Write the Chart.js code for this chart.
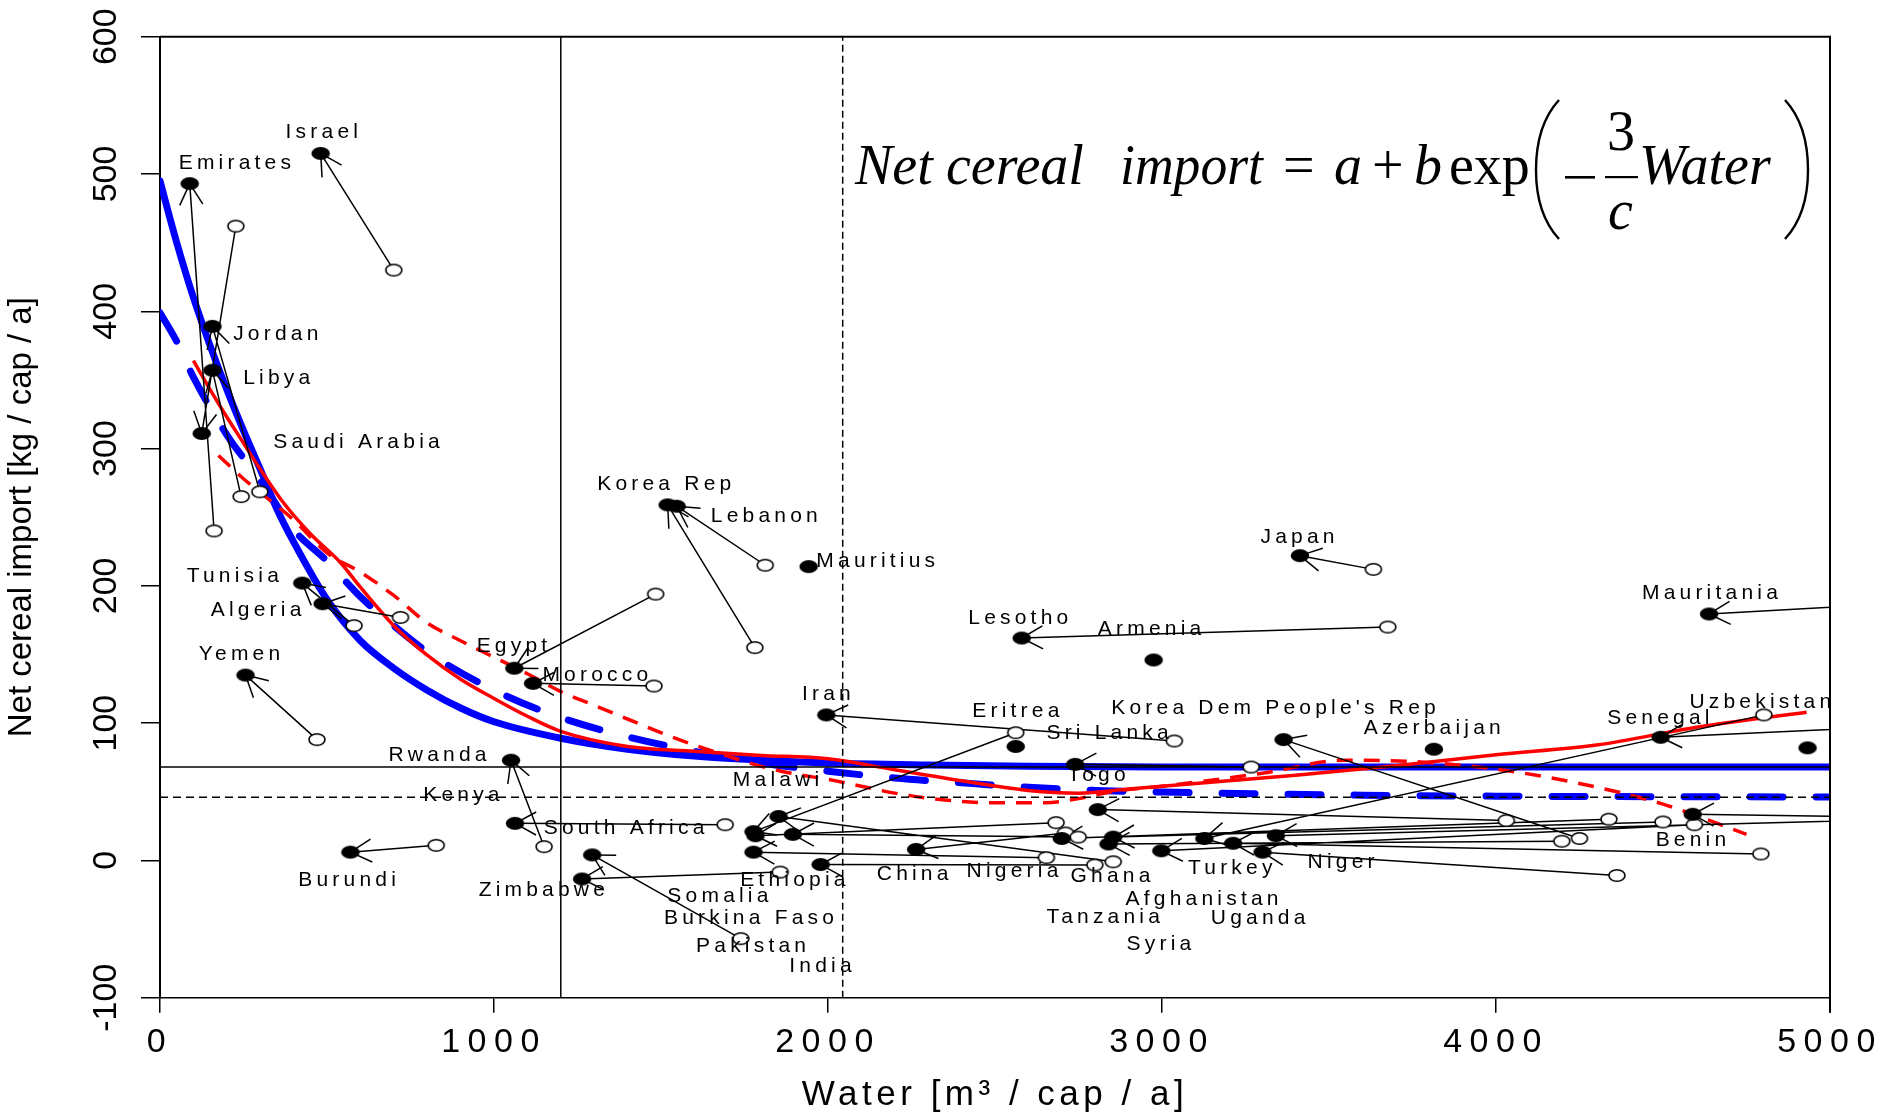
<!DOCTYPE html>
<html>
<head>
<meta charset="utf-8">
<script src="https://cdn.jsdelivr.net/npm/chart.js@4"></script>
<style>
html,body{margin:0;padding:0;background:#fff;}
#wrap{width:1888px;height:1116px;}
</style>
</head>
<body>
<div id="wrap"><canvas id="c" width="1888" height="1116"></canvas></div>
<script>
// ---------------- DATA ----------------
const xTickValues = [0, 1000, 2000, 3000, 4000, 5000];
const yTickValues = [-100, 0, 100, 200, 300, 400, 500, 600];

// arrow pairs: open circle (from) -> filled dot (to)
const pairCountry = ['Israel','Emirates','Saudi Arabia','Jordan','Libya','Tunisia','Algeria','Yemen','Egypt','Morocco',
  'Rwanda','South Africa','Burundi','Somalia','Zimbabwe','Korea Rep','Lebanon','Iran','Malawi','Togo',
  'Lesotho','Japan','Mauritania','Senegal','Benin','Turkey',"Korea Dem People's Rep",'Niger','Uganda','Pakistan',
  'Afghanistan','Tanzania','Ghana','Syria','Nigeria','Ethiopia','Burkina Faso','China','India','Kenya','Sri Lanka'];
const waterTo   = [481, 89, 125, 157, 157, 426, 487, 256, 1061, 1117, 1051, 1063, 570, 1294, 1264, 1520, 1547, 1995, 1777, 2740,
  2580, 3413, 4638, 4493, 4589, 3127, 3364, 3301, 3213, 3341, 2808, 2700, 2854, 2840, 2998, 1978, 1777, 2264, 1852, 1783, 1895];
const importTo  = [515, 493, 311, 389, 357, 202, 187, 135, 140, 129, 73, 27, 6, 4, -13.5, 259, 258, 106, 21, 70,
  162, 222, 179.5, 89.7, 33.6, 16, 88, 6, 12.5, 18, 37, 16, 17, 12, 7, -3, 6, 8, 32, 18, 19];
const waterFrom = [700, 162, 227, 299, 243, 581, 720, 470, 1484, 1479, 1150, 1692, 827, 1739, 1857, 1781, 1812, 3037, 2562, 3267,
  3676, 3633, 5500, 5500, 5500, 4802, 4250, 4362, 4793, 5500, 4031, 4338, 4500, 4197, 4594, 2799, 2654, 2711, 2854, 2683, 2749];
const importFrom= [430, 240, 462, 268.5, 265, 171, 177, 88, 194, 127, 10, 26, 11, -57, -8.5, 155, 215, 87, 93, 68,
  170, 212, 191, 101, 30.5, 106, 16, -11, 4.7, 31.7, 29, 30, 28, 14, 26, -3.3, 2, 20, -1, 27.5, 17];

// filled dots without an arrow
const singleCountry = ['Mauritius','Armenia','Eritrea','Azerbaijan','Uzbekistan'];
const singleWater   = [1942, 2975, 2562, 3814, 4933];
const singleImport  = [214, 146, 83, 81, 82];

// fitted / smoothed curves
const blueSolidWater  = [0, 25, 50, 100, 150, 200, 250, 300, 350, 400, 500, 600, 700, 800, 900, 1000, 1200, 1400, 1600, 1800, 2000, 2300, 2600, 3000, 4000, 5000];
const blueSolidImport = [495, 472, 450, 410, 375, 343, 313, 285, 256, 232, 190, 160, 140, 124, 111, 101, 89, 81, 76, 73, 71, 69.5, 68.5, 68, 68, 68];
const blueDashWater   = [0, 50, 100, 200, 300, 400, 500, 600, 700, 800, 1000, 1200, 1400, 1600, 1800, 2000, 2200, 2400, 2600, 2800, 3000, 3300, 3600, 4000, 5000];
const blueDashImport  = [399, 378, 352, 310, 277, 241, 218, 192, 171, 152, 124, 104, 90, 79.5, 71, 65, 60, 56.5, 53.3, 51, 49.8, 48.5, 47.5, 46.8, 46.2];
const redSolidWater   = [100, 150, 200, 250, 300, 365, 450, 540, 600, 700, 800, 900, 1000, 1100, 1200, 1400, 1600, 1800, 2000, 2200, 2400, 2600, 2750, 2900, 3100, 3400, 3700, 4000, 4300, 4600, 4930];
const redSolidImport  = [364, 343, 323, 304, 285, 262, 238, 217, 199, 171, 149.5, 132, 118, 105, 94, 83, 79.5, 76.5, 74, 66, 58, 51, 49, 52, 56, 62, 69, 77, 84, 97, 108];
const redDashWater    = [175, 250, 300, 400, 500, 600, 700, 800, 900, 1000, 1100, 1200, 1300, 1400, 1500, 1600, 1700, 1800, 1900, 2000, 2100, 2200, 2350, 2500, 2650, 2750, 2850, 3000, 3300, 3550, 3750, 4000, 4250, 4500, 4750];
const redDashImport   = [295, 278, 268, 248, 224, 210, 193, 173, 160, 148, 136, 123, 113, 103, 93, 84, 76, 68.5, 63, 59, 54, 49, 44, 42, 42, 45, 50, 54, 63.5, 73, 72, 66.5, 56, 41, 19];

// reference lines
const refSolidWater = 1200, refDashWater = 2044;
const refSolidImport = 68, refDashImport = 46;

// country name annotations (anchor in data units: left edge, vertical middle)
const labelText  = ['Israel','Emirates','Jordan','Libya','Saudi Arabia','Korea Rep','Lebanon','Mauritius','Tunisia','Algeria',
  'Yemen','Egypt','Morocco','Rwanda','Kenya','South Africa','Burundi','Zimbabwe','Somalia','Burkina Faso',
  'Pakistan','India','Ethiopia','Malawi','China','Nigeria','Ghana','Turkey','Afghanistan','Tanzania',
  'Uganda','Syria','Eritrea','Sri Lanka',"Korea Dem People's Rep",'Togo','Iran','Lesotho','Armenia','Japan',
  'Mauritania','Azerbaijan','Senegal','Uzbekistan','Benin','Niger'];
const labelWater = [376, 56, 219, 249, 339, 1309, 1649, 1965, 80, 152,
  116, 948, 1145, 684, 788, 1149, 414, 954, 1519, 1509,
  1605, 1884, 1737, 1715, 2146, 2415, 2726, 3078, 2891, 2654,
  3146, 2894, 2432, 2654, 2848, 2717, 1922, 2420, 2808, 3295,
  4437, 3604, 4333, 4579, 4478, 3436];
const labelImport = [530.6, 507.6, 383.5, 351, 304.7, 274.2, 250.9, 218.2, 206.7, 182.4,
  150.4, 155.8, 134.6, 77, 47.3, 23.6, -14.2, -21.4, -25.9, -42.1,
  -62.8, -77.4, -14.2, 58.1, -9.9, -8.2, -11.8, -5.7, -28.1, -41.4,
  -42.1, -61.1, 108.4, 92.6, 110.8, 62.2, 120.9, 176.1, 168.7, 235.4,
  194.7, 96, 103.8, 115.1, 14.9, -1.4];

// ---------------- BUILD ----------------
const zip = (xs, ys) => xs.map((v, i) => ({x: v, y: ys[i]}));

function ellipseImg(w, h, fill, stroke, lw) {
  const c = document.createElement('canvas');
  c.width = w + 4; c.height = h + 4;
  const g = c.getContext('2d');
  g.beginPath();
  g.ellipse(c.width / 2, c.height / 2, w / 2, h / 2, 0, 0, Math.PI * 2);
  if (fill) { g.fillStyle = fill; g.fill(); }
  if (stroke) { g.lineWidth = lw; g.strokeStyle = stroke; g.stroke(); }
  return c;
}
const filledImg = ellipseImg(18.5, 13, '#000', null, 0);
const openImg = ellipseImg(16, 11.5, '#fff', '#000', 1.6);

const arrowData = [];
pairCountry.forEach((n, i) => {
  arrowData.push({x: waterFrom[i], y: importFrom[i]});
  arrowData.push({x: waterTo[i], y: importTo[i]});
  arrowData.push({x: waterTo[i], y: null});
});
const openData = zip(waterFrom, importFrom).filter(p => p.x <= 5000);
const filledData = zip(waterTo, importTo).concat(zip(singleWater, singleImport));

const SANS = '"Liberation Sans", Arial, Helvetica, sans-serif';
const SERIF = '"Liberation Serif", "Times New Roman", serif';

const lineDs = (label, data, color, width, dash, order, extra) => Object.assign({
  label, data, showLine: true, borderColor: color, backgroundColor: color, borderWidth: width,
  borderDash: dash || [], pointRadius: 0, pointHoverRadius: 0, fill: false, order, tension: 0
}, extra || {});

const arrowHeads = {
  id: 'arrowHeads',
  afterDatasetDraw(chart, args) {
    if (chart.data.datasets[args.index].label !== 'arrows') return;
    const {ctx, chartArea: ca} = chart;
    const sx = chart.scales.x, sy = chart.scales.y;
    const L = 24, H = 0.5;
    ctx.save();
    ctx.beginPath(); ctx.rect(ca.left, ca.top, ca.width, ca.height); ctx.clip();
    ctx.strokeStyle = '#000'; ctx.lineWidth = 1.5;
    for (let i = 0; i < pairCountry.length; i++) {
      const x1 = sx.getPixelForValue(waterFrom[i]), y1 = sy.getPixelForValue(importFrom[i]);
      const x2 = sx.getPixelForValue(waterTo[i]), y2 = sy.getPixelForValue(importTo[i]);
      const a = Math.atan2(y1 - y2, x1 - x2);
      for (const s of [-1, 1]) {
        ctx.beginPath();
        ctx.moveTo(x2, y2);
        ctx.lineTo(x2 + L * Math.cos(a + s * H), y2 + L * Math.sin(a + s * H));
        ctx.stroke();
      }
    }
    ctx.restore();
  }
};

const spacing = {
  id: 'spacing',
  beforeDraw(chart) {
    const s = chart.scales.x;
    if (s && !s.__ls) {
      const dl = s.drawLabels, dt = s.drawTitle;
      s.drawLabels = function (a) { const c = this.ctx; c.save(); c.letterSpacing = '7.5px'; dl.call(this, a); c.restore(); };
      s.drawTitle = function () { const c = this.ctx; c.save(); c.letterSpacing = '4.5px'; dt.call(this); c.restore(); };
      s.__ls = true;
    }
  }
};

function drawFormula(ctx) {
  ctx.save();
  ctx.fillStyle = '#000'; ctx.strokeStyle = '#000';
  ctx.textAlign = 'left'; ctx.textBaseline = 'alphabetic';
  const it = 'italic 56px ' + SERIF, up = '56px ' + SERIF;
  const B = 184;
  const parts = [
    [it, 'Net', 855, B, 78], [it, 'cereal', 946, B, 138], [it, 'import', 1120, B, 143],
    [up, '=', 1283, B], [it, 'a', 1334, B], [up, '+', 1372, B], [it, 'b', 1414, B],
    [up, 'exp', 1449, B], [up, '3', 1607, 150], [it, 'c', 1608, 229], [it, 'Water', 1639, B, 144]
  ];
  for (const [f, t, x, y, mw] of parts) { ctx.font = f; if (mw) ctx.fillText(t, x, y, mw); else ctx.fillText(t, x, y); }
  ctx.fillRect(1565, 176, 30, 2.6);   // minus
  ctx.fillRect(1605, 176, 33, 2.2);   // fraction bar
  ctx.lineWidth = 2.4;
  ctx.beginPath(); ctx.moveTo(1559, 100); ctx.quadraticCurveTo(1536, 125, 1536, 170); ctx.quadraticCurveTo(1536, 214, 1559, 239); ctx.stroke();
  ctx.beginPath(); ctx.moveTo(1785, 100); ctx.quadraticCurveTo(1808, 125, 1808, 170); ctx.quadraticCurveTo(1808, 214, 1785, 239); ctx.stroke();
  ctx.restore();
}

const annotations = {
  id: 'annotations',
  afterDatasetsDraw(chart) {
    const {ctx, chartArea: ca} = chart;
    const sx = chart.scales.x, sy = chart.scales.y;
    // frame top & right
    ctx.save();
    ctx.strokeStyle = '#000'; ctx.lineWidth = 2;
    ctx.beginPath();
    ctx.moveTo(ca.left, ca.top); ctx.lineTo(ca.right, ca.top); ctx.lineTo(ca.right, ca.bottom + 15);
    ctx.stroke();
    // labels
    ctx.fillStyle = '#000';
    ctx.font = '21px ' + SANS;
    ctx.letterSpacing = '4.2px';
    ctx.textAlign = 'left'; ctx.textBaseline = 'middle';
    labelText.forEach((t, i) => {
      ctx.fillText(t, sx.getPixelForValue(labelWater[i]), sy.getPixelForValue(labelImport[i]));
    });
    ctx.letterSpacing = '0px';
    ctx.restore();
    drawFormula(ctx);
  }
};

new Chart(document.getElementById('c'), {
  type: 'scatter',
  data: {
    datasets: [
      lineDs('blueSolid', zip(blueSolidWater, blueSolidImport), '#0000ff', 7, [], 20, {cubicInterpolationMode: 'monotone', borderCapStyle: 'round'}),
      lineDs('blueDash', zip(blueDashWater, blueDashImport), '#0000ff', 7, [33, 33], 19, {cubicInterpolationMode: 'monotone', borderCapStyle: 'round'}),
      lineDs('redSolid', zip(redSolidWater, redSolidImport), '#ff0000', 3.5, [], 18, {cubicInterpolationMode: 'monotone'}),
      lineDs('redDash', zip(redDashWater, redDashImport), '#ff0000', 3.5, [16, 11], 17, {cubicInterpolationMode: 'monotone'}),
      lineDs('refH', [{x: 0, y: refSolidImport}, {x: 5000, y: refSolidImport}], '#000', 1.5, [], 10),
      lineDs('refHd', [{x: 0, y: refDashImport}, {x: 5000, y: refDashImport}], '#000', 1.5, [8, 5], 10),
      lineDs('refV', [{x: refSolidWater, y: -100}, {x: refSolidWater, y: 600}], '#000', 1.5, [], 10),
      lineDs('refVd', [{x: refDashWater, y: -100}, {x: refDashWater, y: 600}], '#000', 1.5, [7, 4], 10),
      lineDs('arrows', arrowData, '#000', 1.5, [], 5, {spanGaps: false}),
      {label: 'open', data: openData, showLine: false, pointStyle: openImg, pointRadius: 8, pointHoverRadius: 8, order: 3},
      {label: 'filled', data: filledData, showLine: false, pointStyle: filledImg, pointRadius: 9, pointHoverRadius: 9, order: 2}
    ]
  },
  options: {
    responsive: false,
    animation: false,
    devicePixelRatio: 1,
    events: [],
    layout: {padding: {top: 36.7, right: 58, left: 0, bottom: 0}},
    plugins: {legend: {display: false}, tooltip: {enabled: false}},
    scales: {
      x: {
        type: 'linear', min: 0, max: 5000,
        afterFit: s => { s.height = 118.3; },
        afterBuildTicks: s => { s.ticks = xTickValues.map(v => ({value: v})); },
        ticks: {color: '#000', padding: 10, maxRotation: 0, autoSkip: false, font: {family: SANS, size: 34}, callback: v => String(v)},
        grid: {drawOnChartArea: false, drawTicks: true, tickLength: 15, color: '#000', lineWidth: 1.5},
        border: {display: true, color: '#000', width: 1.6},
        title: {display: true, text: 'Water [m³ / cap / a]', color: '#000', font: {family: SANS, size: 35}, padding: 0}
      },
      y: {
        type: 'linear', min: -100, max: 600,
        afterFit: s => { s.width = 160; },
        afterBuildTicks: s => { s.ticks = yTickValues.map(v => ({value: v})); },
        ticks: {color: '#000', padding: 0, minRotation: 90, maxRotation: 90, crossAlign: 'center', autoSkip: false, font: {family: SANS, size: 34}, callback: v => String(v)},
        grid: {drawOnChartArea: false, drawTicks: true, tickLength: 19, color: '#000', lineWidth: 1.5},
        border: {display: true, color: '#000', width: 2},
        title: {display: true, text: 'Net cereal import [kg / cap / a]', color: '#000', font: {family: SANS, size: 33}, padding: {top: 2, bottom: 0}}
      }
    }
  },
  plugins: [spacing, arrowHeads, annotations]
});
</script>
</body>
</html>
